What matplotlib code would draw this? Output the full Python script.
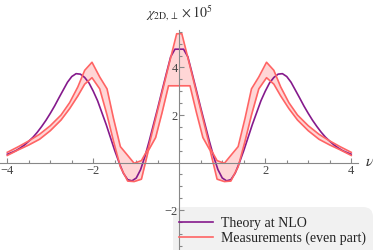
import numpy as np
import matplotlib
matplotlib.use('Agg')
import matplotlib.pyplot as plt
from matplotlib.lines import Line2D
from matplotlib.patches import FancyBboxPatch
from matplotlib.transforms import IdentityTransform

plt.rcParams['font.family'] = ['Liberation Serif', 'DejaVu Serif']
plt.rcParams['mathtext.fontset'] = 'stix'

# theory curve (NLO), positive half, symmetric in nu
nu_th = [0.0, 0.1, 0.2, 0.3, 0.4, 0.5, 0.6, 0.7, 0.8, 0.9, 1.0,
         1.1, 1.2, 1.3, 1.4, 1.5, 1.6, 1.7, 1.8, 1.9, 2.0,
         2.1, 2.2, 2.3, 2.4, 2.5, 2.6, 2.7, 2.8, 2.9, 3.0,
         3.1, 3.2, 3.3, 3.4, 3.5, 3.6, 3.7, 3.8, 3.9, 4.0]
chi_th = [4.77, 4.77, 4.45, 3.75, 3.03, 2.3, 1.6, 0.9, 0.25, -0.3, -0.65,
          -0.77, -0.72, -0.45, 0.0, 0.5, 1.05, 1.6, 2.1, 2.6, 3.0,
          3.35, 3.58, 3.72, 3.74, 3.62, 3.38, 3.05, 2.72, 2.38, 2.07,
          1.78, 1.52, 1.28, 1.07, 0.9, 0.74, 0.61, 0.5, 0.42, 0.35]

# measurements, even part: upper and lower edge of the band
nu_ms = [0.06, 0.25, 0.4, 0.55, 0.72, 0.88, 1.05, 1.2, 1.37, 1.53, 1.68,
         1.85, 2.03, 2.2, 2.36, 2.55, 2.75, 3.0, 3.25, 3.5, 3.75, 4.0]
chi_hi = [5.42, 4.05, 2.95, 1.85, 0.6, 0.08, -0.03, 0.3, 0.67, 1.86, 3.1,
          3.6, 4.22, 3.88, 3.18, 2.52, 2.0, 1.55, 1.19, 0.91, 0.66, 0.43]
chi_lo = [3.23, 3.23, 2.1, 1.05, 0.5, -0.7, -0.8, -0.78, -0.18, 0.9, 2.0,
          3.1, 3.57, 3.3, 2.8, 2.27, 1.79, 1.34, 0.98, 0.74, 0.53, 0.3]


def mirror(x, y):
    x = np.asarray(x)
    y = np.asarray(y)
    if x[0] == 0:
        return np.concatenate([-x[:0:-1], x]), np.concatenate([y[:0:-1], y])
    return np.concatenate([-x[::-1], x]), np.concatenate([y[::-1], y])


xt, yt = mirror(nu_th, chi_th)
xm, yhi = mirror(nu_ms, chi_hi)
_, ylo = mirror(nu_ms, chi_lo)

purple = '#851a8c'
red = '#ff6464'

fig = plt.figure(figsize=(3.74, 2.5), dpi=100)
ax = fig.add_axes([0, 0, 1, 1])
ax.set_xlim(-4.17, 4.53)
ax.set_ylim(-3.68, 6.84)

ax.fill_between(xm, ylo, yhi, color='#ffd6d6', lw=0)
ax.plot(xt, yt, color=purple, lw=1.2)
ax.plot(xm, yhi, color=red, lw=1.2)
ax.plot(xm, ylo, color=red, lw=1.2)

for s in ['top', 'right']:
    ax.spines[s].set_visible(False)
ax.spines['left'].set_position(('data', 0))
ax.spines['bottom'].set_position(('data', 0))
ax.spines['left'].set_bounds(-3.68, 5.58)
ax.spines['bottom'].set_bounds(-4.17, 4.15)
for s in ['left', 'bottom']:
    ax.spines[s].set_color('#888888')
    ax.spines[s].set_linewidth(0.8)

ax.set_xticks([-4, -2, 2, 4])
ax.set_xticks([v for v in np.arange(-4, 4.01, 0.5) if v % 2 != 0], minor=True)
ax.set_yticks([-2, 2, 4])
ax.set_yticks([v for v in np.arange(-3.5, 5.51, 0.5) if v % 2 != 0], minor=True)
ax.tick_params(which='both', direction='in', color='#888888', width=0.8,
               labelcolor='#444444', labelsize=9)
ax.tick_params(which='major', length=3.5)
ax.tick_params(which='minor', length=2)
ax.tick_params(axis='x', pad=2)
ax.tick_params(axis='y', pad=1)

ax.text(0, 6.08, r'$\chi_{\mathrm{2D},\perp}\times 10^5$', ha='center',
        va='baseline', fontsize=10, color='#333333')
ax.text(4.31, 0, r'$\nu$', ha='left', va='center', fontsize=11, color='#333333')

# legend background, in pixels, kept under the axis and its labels
box = FancyBboxPatch((173, -20), 200, 63, boxstyle='round,pad=0,rounding_size=10',
                     transform=IdentityTransform(), facecolor='#f1f1f1',
                     edgecolor='none', zorder=1.2)
ax.add_patch(box)

handles = [Line2D([], [], color=purple, lw=1.2),
           Line2D([], [], color=red, lw=1.2)]
leg = ax.legend(handles, ['Theory at NLO', 'Measurements (even part)'],
                loc='upper left', bbox_to_anchor=(179 / 374, 1 - 217 / 250),
                borderaxespad=0, borderpad=0, fontsize=10, handlelength=2.45,
                handletextpad=0.55, labelspacing=0.12, frameon=False)
for t in leg.get_texts():
    t.set_color('#222222')

fig.savefig('out.png', dpi=100)
